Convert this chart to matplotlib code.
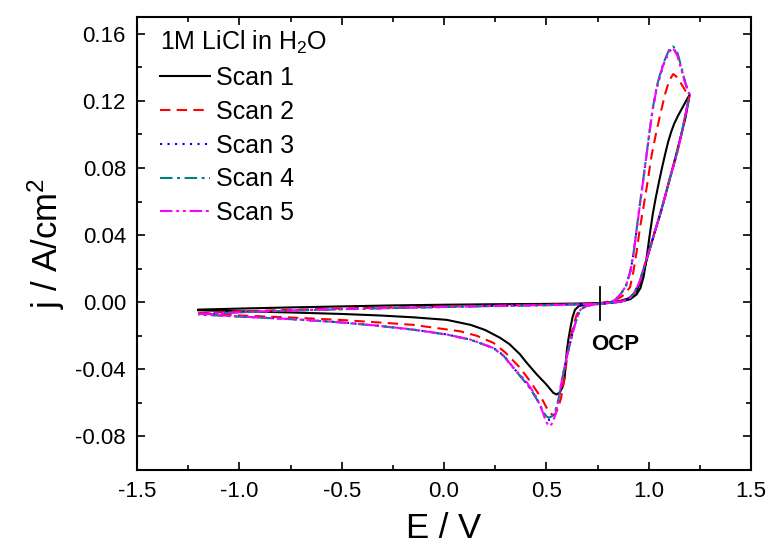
import matplotlib
matplotlib.use("Agg")
import matplotlib.pyplot as plt
from matplotlib.ticker import MultipleLocator, FormatStrFormatter

plt.rcParams['font.family'] = ['Liberation Sans', 'DejaVu Sans']
plt.rcParams['mathtext.fontset'] = 'custom'
plt.rcParams['mathtext.rm'] = 'Liberation Sans'
plt.rcParams['mathtext.it'] = 'Liberation Sans:italic'

# ---------------- data (E in V, j in A/cm^2) ----------------
scan_labels = ["Scan 1", "Scan 2", "Scan 3", "Scan 4", "Scan 5"]
legend_title = "1M LiCl in H$_2$O"
x_ticks = [-1.5, -1.0, -0.5, 0.0, 0.5, 1.0, 1.5]
y_ticks = [-0.08, -0.04, 0.00, 0.04, 0.08, 0.12, 0.16]
ocp_E = 0.76

scan1_E = [-1.2, -1.0, -0.75, -0.5, -0.25, 0.0, 0.25, 0.5, 0.65, 0.76, 0.82, 0.86, 0.90, 0.92, 0.941,
           0.957, 0.974, 0.99, 1.006, 1.03, 1.055, 1.08, 1.104, 1.13, 1.153, 1.18, 1.20,
           1.185, 1.165, 1.145, 1.125, 1.11, 1.095, 1.08, 1.065, 1.05, 1.035, 1.02, 1.005, 0.99,
           0.975, 0.96, 0.941, 0.91, 0.86, 0.80, 0.76, 0.70, 0.66, 0.64, 0.628, 0.618, 0.608,
           0.600, 0.594, 0.589, 0.578, 0.565, 0.55, 0.534, 0.50, 0.453, 0.40, 0.371, 0.32, 0.274,
           0.20, 0.13, 0.013, -0.15, -0.313, -0.5, -0.75, -1.0, -1.2]
scan1_j = [-0.0044, -0.0038, -0.0031, -0.0025, -0.0019, -0.0015, -0.0012, -0.0010, -0.0008, -0.0005,
           0.0000, 0.0008, 0.0022, 0.0040, 0.0068, 0.0115, 0.0180, 0.0250, 0.0320, 0.0420, 0.0520,
           0.0630, 0.0740, 0.0860, 0.0970, 0.1100, 0.1236,
           0.1205, 0.1160, 0.1115, 0.1065, 0.1015, 0.0955, 0.0880, 0.0800, 0.0715, 0.0625, 0.0525,
           0.0400, 0.0265, 0.0150, 0.0085, 0.0046, 0.0018, 0.0002, -0.0004, -0.0006, -0.0013,
           -0.0022, -0.0045, -0.0090, -0.0150, -0.0220, -0.0290, -0.0380, -0.0455, -0.0510, -0.0538,
           -0.0550, -0.0540, -0.0490, -0.0430, -0.0355, -0.0310, -0.0250, -0.0212, -0.0165, -0.0135,
           -0.0105, -0.0090, -0.0079, -0.0070, -0.0061, -0.0054, -0.0048]

scan2_E = [-1.2, -1.0, -0.75, -0.5, -0.25, 0.0, 0.25, 0.5, 0.65, 0.76, 0.80, 0.84, 0.87, 0.89, 0.909,
           0.925, 0.941, 0.957, 0.975, 0.99, 1.015, 1.035, 1.055, 1.08, 1.10, 1.12, 1.14, 1.16, 1.18, 1.20,
           1.18, 1.153, 1.13, 1.104, 1.08, 1.055, 1.03, 1.006, 0.98, 0.957, 0.93, 0.90, 0.86, 0.80,
           0.76, 0.70, 0.665, 0.648, 0.632, 0.618, 0.605, 0.595, 0.585, 0.572, 0.558, 0.545, 0.532,
           0.518, 0.502, 0.48, 0.453, 0.42, 0.371, 0.30, 0.241, 0.16, 0.078, -0.15, -0.313, -0.5,
           -0.75, -1.0, -1.2]
scan2_j = [-0.0065, -0.0055, -0.0045, -0.0037, -0.0031, -0.0026, -0.0020, -0.0015, -0.0011, -0.0007,
           0.0003, 0.0015, 0.0035, 0.0060, 0.0090, 0.0180, 0.0300, 0.0440, 0.0570, 0.0680, 0.0880,
           0.1000, 0.1110, 0.1240, 0.1320, 0.1360, 0.1340, 0.1300, 0.1260, 0.1236,
           0.1120, 0.0960, 0.0850, 0.0740, 0.0630, 0.0520, 0.0420, 0.0320, 0.0220, 0.0125, 0.0055,
           0.0015, 0.0003, -0.0005, -0.0010, -0.0020, -0.0040, -0.0075, -0.0140, -0.0212, -0.0300,
           -0.0390, -0.0480, -0.0570, -0.0630, -0.0665, -0.0672, -0.0660, -0.0630, -0.0580, -0.0530,
           -0.0470, -0.0390, -0.0300, -0.0242, -0.0200, -0.0173, -0.0135, -0.0121, -0.0106, -0.0091,
           -0.0079, -0.0068]

scan3_E = [-1.2, -1.0, -0.75, -0.5, -0.25, 0.0, 0.25, 0.5, 0.65, 0.76, 0.81, 0.84, 0.865, 0.89, 0.91,
           0.925, 0.94, 0.957, 0.975, 0.99, 1.005, 1.02, 1.04, 1.07, 1.10, 1.12, 1.14, 1.16, 1.18, 1.20,
           1.18, 1.153, 1.13, 1.104, 1.08, 1.055, 1.03, 1.006, 0.98, 0.957, 0.93, 0.90, 0.86, 0.80,
           0.76, 0.70, 0.668, 0.652, 0.638, 0.625, 0.612, 0.599, 0.587, 0.575, 0.56, 0.543, 0.528,
           0.515, 0.50, 0.485, 0.46, 0.42, 0.38, 0.339, 0.29, 0.241, 0.18, 0.127, 0.013, -0.15,
           -0.313, -0.5, -0.75, -1.0, -1.2]
scan3_j = [-0.0070, -0.0060, -0.0049, -0.0041, -0.0034, -0.0028, -0.0022, -0.0017, -0.0013, -0.0009,
           -0.0003, 0.0018, 0.0050, 0.0100, 0.0180, 0.0280, 0.0420, 0.0580, 0.0740, 0.0880, 0.1020,
           0.1150, 0.1280, 0.1410, 0.1495, 0.1515, 0.1480, 0.1390, 0.1300, 0.1236,
           0.1120, 0.0960, 0.0850, 0.0740, 0.0630, 0.0520, 0.0420, 0.0320, 0.0220, 0.0125, 0.0055,
           0.0015, 0.0003, -0.0005, -0.0010, -0.0020, -0.0042, -0.0085, -0.0140, -0.0200, -0.0265,
           -0.0330, -0.0400, -0.0470, -0.0580, -0.0665, -0.0695, -0.0702, -0.0688, -0.0655, -0.0590,
           -0.0510, -0.0450, -0.0390, -0.0315, -0.0272, -0.0245, -0.0222, -0.0192, -0.0163, -0.0141,
           -0.0120, -0.0100, -0.0085, -0.0072]

scan4_E = [-1.2, -1.0, -0.75, -0.5, -0.25, 0.0, 0.25, 0.5, 0.65, 0.76, 0.81, 0.84, 0.865, 0.89, 0.91,
           0.925, 0.94, 0.957, 0.975, 0.99, 1.005, 1.02, 1.04, 1.07, 1.10, 1.12, 1.14, 1.16, 1.18, 1.20,
           1.18, 1.153, 1.13, 1.104, 1.08, 1.055, 1.03, 1.006, 0.98, 0.957, 0.93, 0.90, 0.86, 0.80,
           0.76, 0.70, 0.668, 0.652, 0.638, 0.625, 0.612, 0.599, 0.587, 0.575, 0.56, 0.543, 0.528,
           0.512, 0.50, 0.485, 0.46, 0.42, 0.38, 0.339, 0.29, 0.241, 0.18, 0.127, 0.013, -0.15,
           -0.313, -0.5, -0.75, -1.0, -1.2]
scan4_j = [-0.0071, -0.0061, -0.0050, -0.0042, -0.0035, -0.0029, -0.0023, -0.0018, -0.0013, -0.0009,
           -0.0003, 0.0019, 0.0052, 0.0102, 0.0185, 0.0285, 0.0425, 0.0585, 0.0745, 0.0885, 0.1025,
           0.1155, 0.1290, 0.1420, 0.1505, 0.1525, 0.1490, 0.1400, 0.1305, 0.1236,
           0.1120, 0.0960, 0.0850, 0.0740, 0.0630, 0.0520, 0.0420, 0.0320, 0.0220, 0.0125, 0.0055,
           0.0015, 0.0003, -0.0005, -0.0010, -0.0020, -0.0042, -0.0085, -0.0140, -0.0200, -0.0265,
           -0.0330, -0.0400, -0.0470, -0.0575, -0.0650, -0.0680, -0.0688, -0.0680, -0.0655, -0.0592,
           -0.0512, -0.0452, -0.0392, -0.0317, -0.0273, -0.0246, -0.0223, -0.0193, -0.0164, -0.0142,
           -0.0121, -0.0101, -0.0086, -0.0073]

scan5_E = [-1.2, -1.0, -0.75, -0.5, -0.25, 0.0, 0.25, 0.5, 0.65, 0.76, 0.81, 0.84, 0.865, 0.89, 0.91,
           0.925, 0.94, 0.957, 0.975, 0.99, 1.005, 1.02, 1.04, 1.07, 1.10, 1.12, 1.14, 1.16, 1.18, 1.20,
           1.18, 1.153, 1.13, 1.104, 1.08, 1.055, 1.03, 1.006, 0.98, 0.957, 0.93, 0.90, 0.86, 0.80,
           0.76, 0.70, 0.668, 0.652, 0.638, 0.625, 0.612, 0.599, 0.587, 0.575, 0.56, 0.543, 0.53,
           0.518, 0.508, 0.495, 0.475, 0.44, 0.40, 0.35, 0.29, 0.241, 0.18, 0.127, 0.013, -0.15,
           -0.313, -0.5, -0.75, -1.0, -1.2]
scan5_j = [-0.0070, -0.0060, -0.0049, -0.0041, -0.0034, -0.0028, -0.0022, -0.0017, -0.0013, -0.0009,
           -0.0003, 0.0018, 0.0050, 0.0100, 0.0180, 0.0280, 0.0420, 0.0580, 0.0740, 0.0880, 0.1020,
           0.1150, 0.1280, 0.1410, 0.1500, 0.1512, 0.1470, 0.1385, 0.1300, 0.1236,
           0.1120, 0.0960, 0.0850, 0.0740, 0.0630, 0.0520, 0.0420, 0.0320, 0.0220, 0.0125, 0.0055,
           0.0015, 0.0003, -0.0005, -0.0010, -0.0020, -0.0042, -0.0085, -0.0140, -0.0200, -0.0265,
           -0.0330, -0.0400, -0.0470, -0.0585, -0.0675, -0.0720, -0.0738, -0.0732, -0.0700, -0.0630,
           -0.0540, -0.0470, -0.0405, -0.0320, -0.0273, -0.0245, -0.0222, -0.0192, -0.0163, -0.0141,
           -0.0120, -0.0100, -0.0085, -0.0071]

scans_E = [scan1_E, scan2_E, scan3_E, scan4_E, scan5_E]
scans_j = [scan1_j, scan2_j, scan3_j, scan4_j, scan5_j]

# ---------------- styles ----------------
colors = ["#000000", "#FF0000", "#0000FF", "#008080", "#FF00FF"]
styles = ["-", (0, (5, 3)), (0, (1, 2.6)), (0, (6, 2.2, 1.4, 2.2)), (0, (6, 1.8, 1.4, 1.8, 1.4, 1.8))]

fig = plt.figure(figsize=(7.68, 5.49), dpi=100)
ax = fig.add_axes([137 / 768, 79 / 549, 614 / 768, 453 / 549])

for E, j, c, ls, lab in zip(scans_E, scans_j, colors, styles, scan_labels):
    ax.plot(E, j, color=c, linestyle=ls, linewidth=1.5, label=lab)

# OCP marker
ax.plot([ocp_E, ocp_E], [-0.0103, 0.0089], color="black", linewidth=1.3)
ax.text(0.836, -0.0254, "OCP", fontsize=16, fontweight="bold", ha="center", va="center")

ax.set_xlim(-1.5, 1.5)
ax.set_ylim(-0.10, 0.17)
ax.set_xticks(x_ticks)
ax.set_yticks(y_ticks)
ax.xaxis.set_minor_locator(MultipleLocator(0.25))
ax.yaxis.set_minor_locator(MultipleLocator(0.02))
ax.xaxis.set_major_formatter(FormatStrFormatter("%.1f"))
ax.yaxis.set_major_formatter(FormatStrFormatter("%.2f"))
ax.tick_params(which="both", direction="in", top=True, right=True, width=1.2)
ax.tick_params(which="major", length=6, labelsize=16, pad=8)
ax.tick_params(which="minor", length=3.5)
for s in ax.spines.values():
    s.set_linewidth(1.5)

ax.set_xlabel("E / V", fontsize=25, labelpad=7)
ax.set_ylabel("j / A/cm$^2$", fontsize=25, labelpad=6)

leg = ax.legend(loc="upper left", bbox_to_anchor=(0.009, 1.012), frameon=False, fontsize=18,
                title=legend_title, title_fontsize=18, alignment="left",
                handlelength=2.0, handletextpad=0.25, labelspacing=0.39, borderaxespad=0.3)

fig.savefig("out.png", dpi=100)
